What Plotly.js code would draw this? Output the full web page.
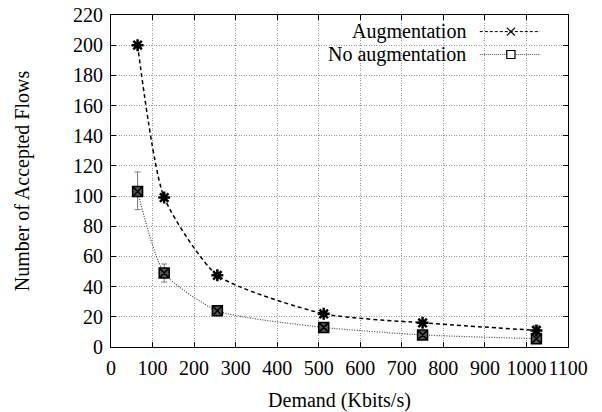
<!DOCTYPE html>
<html>
<head>
<meta charset="utf-8">
<script src="https://cdn.plot.ly/plotly-3.0.1.min.js"></script>
<style>html,body{margin:0;padding:0;background:#fff;}#chart{width:602px;height:412px;}</style>
</head>
<body>
<div id="chart"></div>
<script>
const demand = [64, 128, 256, 512, 750, 1024];
const augmentation = [200, 99, 47.5, 22, 16, 11];
const augErrPlus = [1, 1, 1, 1, 1, 3];
const augErrMinus = [1, 1, 1, 1, 1, 3];
const noAugmentation = [103, 49, 24, 13, 8, 5.5];
const noAugErrPlus = [13, 6, 1, 1, 1, 2];
const noAugErrMinus = [12, 6, 1, 1, 1, 2];
const seriesNames = ["Augmentation", "No augmentation"];
const xTicks = [0, 100, 200, 300, 400, 500, 600, 700, 800, 900, 1000, 1100];
const yTicks = [0, 20, 40, 60, 80, 100, 120, 140, 160, 180, 200, 220];

const FONT = "Liberation Serif";

const traces = [
  {
    x: demand, y: noAugmentation, name: seriesNames[1], type: "scatter", mode: "lines+markers",
    line: {shape: "spline", smoothing: 0.6, color: "#444", width: 1.2, dash: "1px,1.5px"},
    marker: {symbol: "square-x", size: 10, color: "#555", line: {color: "#000", width: 1.5}},
    error_y: {type: "data", symmetric: false, array: noAugErrPlus, arrayminus: noAugErrMinus,
              color: "#777", thickness: 1, width: 3},
    showlegend: false
  },
  {
    x: demand, y: augmentation, name: seriesNames[0], type: "scatter", mode: "lines+markers",
    line: {shape: "spline", smoothing: 0.6, color: "#000", width: 1.5, dash: "4px,3px"},
    marker: {symbol: "asterisk-open", size: 10, color: "#000", line: {color: "#000", width: 2.5}},
    error_y: {type: "data", symmetric: false, array: augErrPlus, arrayminus: augErrMinus,
              color: "#444", thickness: 1, width: 3},
    showlegend: false
  }
];

// legend geometry (paper coordinates)
const lx0 = 0.807, lx1 = 0.939, lmx = 0.875, ly1 = 0.950, ly2 = 0.881;
const hx = 0.009, hy = 0.012;

const layout = {
  width: 602, height: 412,
  margin: {l: 111, r: 34, t: 15, b: 65},
  paper_bgcolor: "#fff", plot_bgcolor: "#fff",
  font: {family: FONT, size: 20, color: "#000"},
  showlegend: false,
  xaxis: {
    range: [0, 1100], tickvals: xTicks, ticktext: xTicks.map(String), tickangle: 0,
    showline: true, linecolor: "#000", linewidth: 1, mirror: "ticks",
    ticks: "inside", ticklen: 5, tickcolor: "#000", ticklabelstandoff: 3,
    showgrid: true, gridcolor: "#999", griddash: "1px,1.5px", gridwidth: 1,
    zeroline: false, tickfont: {family: FONT, size: 20}, automargin: false,
    title: {text: "Demand (Kbits/s)", font: {family: FONT, size: 20}, standoff: 18}
  },
  yaxis: {
    range: [0, 220], tickvals: yTicks, ticktext: yTicks.map(String), tickangle: 0,
    showline: true, linecolor: "#000", linewidth: 1, mirror: "ticks",
    ticks: "inside", ticklen: 5, tickcolor: "#000", ticklabelstandoff: 3,
    showgrid: true, gridcolor: "#999", griddash: "1px,1.5px", gridwidth: 1,
    zeroline: false, tickfont: {family: FONT, size: 20}, automargin: false,
    title: {text: "Number of Accepted Flows", font: {family: FONT, size: 20}, standoff: 38}
  },
  shapes: [
    {type: "rect", xref: "paper", yref: "paper", x0: 0.354, x1: 0.967, y0: 0.849, y1: 0.997,
     fillcolor: "#fff", line: {width: 0}, layer: "between"},
    {type: "line", xref: "paper", yref: "paper", x0: lx0, x1: lx1, y0: ly1, y1: ly1,
     line: {color: "#000", width: 1, dash: "3px,2px"}},
    {type: "line", xref: "paper", yref: "paper", x0: lmx - hx, x1: lmx + hx, y0: ly1 - hy, y1: ly1 + hy,
     line: {color: "#000", width: 1.2}},
    {type: "line", xref: "paper", yref: "paper", x0: lmx - hx, x1: lmx + hx, y0: ly1 + hy, y1: ly1 - hy,
     line: {color: "#000", width: 1.2}},
    {type: "line", xref: "paper", yref: "paper", x0: lx0, x1: lx1, y0: ly2, y1: ly2,
     line: {color: "#555", width: 1, dash: "1px,1px"}},
    {type: "rect", xref: "paper", yref: "paper", x0: lmx - hx, x1: lmx + hx, y0: ly2 - hy, y1: ly2 + hy,
     fillcolor: "#fff", line: {color: "#000", width: 1.2}}
  ],
  annotations: [
    {xref: "paper", yref: "paper", x: 0.779, y: ly1, xanchor: "right", yanchor: "middle",
     text: seriesNames[0], showarrow: false, font: {family: FONT, size: 20}, borderpad: 0},
    {xref: "paper", yref: "paper", x: 0.779, y: ly2, xanchor: "right", yanchor: "middle",
     text: seriesNames[1], showarrow: false, font: {family: FONT, size: 20}, borderpad: 0}
  ]
};

Plotly.newPlot("chart", traces, layout, {displayModeBar: false, staticPlot: true});
</script>
</body>
</html>
